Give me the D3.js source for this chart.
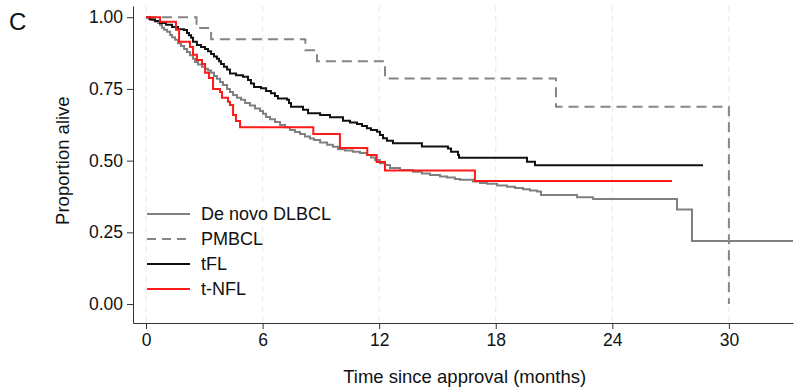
<!DOCTYPE html>
<html>
<head>
<meta charset="utf-8">
<script src="https://cdn.jsdelivr.net/npm/d3@7"></script>
<style>
  body { margin: 0; background: #fff; }
  text { font-family: "Liberation Sans", Arial, sans-serif; fill: #111; }
</style>
</head>
<body>
<div id="km"></div>
<script>
// Kaplan-Meier estimates, [month, proportion alive after that time]
var denovo = [[0,1],[0.15,0.994],[0.31,0.991],[0.46,0.985],[0.62,0.980],[0.72,0.973],[0.82,0.963],[0.93,0.956],
  [1.08,0.949],[1.24,0.938],[1.34,0.930],[1.49,0.921],[1.65,0.909],[1.80,0.900],[1.96,0.889],[2.11,0.879],
  [2.26,0.867],[2.42,0.855],[2.52,0.844],[2.68,0.835],[2.88,0.827],[3.04,0.820],[3.19,0.814],[3.35,0.806],
  [3.50,0.795],[3.65,0.785],[3.81,0.774],[3.96,0.764],[4.17,0.750],[4.32,0.739],[4.48,0.729],[4.68,0.719],
  [4.89,0.712],[5.10,0.701],[5.35,0.692],[5.61,0.682],[5.87,0.673],[6.02,0.663],[6.18,0.652],[6.38,0.644],
  [6.64,0.635],[6.90,0.624],[7.16,0.616],[7.41,0.607],[7.67,0.600],[7.93,0.593],[8.18,0.584],[8.44,0.577],
  [8.65,0.572],[8.96,0.563],[9.32,0.555],[9.62,0.548],[9.88,0.540],[10.24,0.535],[10.65,0.531],[11.01,0.527],
  [11.37,0.520],[11.58,0.511],[11.79,0.502],[12.04,0.491],[12.30,0.485],[12.56,0.474],[13.07,0.467],
  [13.74,0.461],[14.20,0.455],[14.62,0.450],[15.13,0.445],[15.49,0.441],[15.90,0.436],[16.16,0.433],
  [16.83,0.427],[17.19,0.422],[17.55,0.419],[18.07,0.413],[18.58,0.409],[18.99,0.405],[19.40,0.400],
  [19.76,0.396],[20.12,0.392],[20.33,0.380],[22.18,0.372],[23.01,0.366],[27.33,0.330],[28.10,0.220],[33.3,0.220]];

var pmbcl = [[0,1],[2.6,0.962],[3.35,0.923],[8.2,0.885],[8.8,0.846],[12.3,0.786],[21.1,0.688],[30,0]];

var tfl = [[0,1],[0.21,0.992],[0.46,0.987],[0.72,0.980],[1.03,0.974],[1.34,0.966],[1.65,0.958],[1.96,0.955],
  [2.11,0.945],[2.21,0.937],[2.32,0.928],[2.42,0.914],[2.62,0.903],[2.83,0.896],[3.04,0.889],[3.19,0.881],
  [3.35,0.872],[3.50,0.863],[3.65,0.855],[3.76,0.846],[3.86,0.837],[4.01,0.827],[4.17,0.818],[4.32,0.804],
  [4.63,0.798],[4.99,0.792],[5.25,0.781],[5.40,0.769],[5.56,0.757],[5.92,0.752],[6.18,0.743],[6.43,0.735],
  [6.64,0.725],[6.79,0.717],[7.26,0.712],[7.36,0.701],[7.46,0.688],[8.08,0.677],[8.34,0.665],[8.96,0.659],
  [9.47,0.651],[10.14,0.639],[10.50,0.633],[10.86,0.628],[11.12,0.621],[11.37,0.613],[11.58,0.607],
  [11.89,0.601],[12.04,0.589],[12.20,0.578],[12.40,0.569],[12.71,0.561],[14.20,0.549],[15.54,0.542],
  [15.70,0.531],[16.06,0.520],[16.11,0.510],[19.61,0.496],[20.02,0.484],[28.67,0.484]];

var tnfl = [[0,1],[0.72,0.984],[1.54,0.956],[1.70,0.914],[2.26,0.896],[2.42,0.869],[2.62,0.851],[2.88,0.837],
  [3.04,0.806],[3.24,0.788],[3.45,0.750],[3.81,0.739],[3.91,0.719],[4.22,0.705],[4.32,0.694],[4.48,0.659],
  [4.63,0.638],[4.84,0.616],[8.61,0.593],[9.98,0.544],[11.39,0.520],[11.87,0.495],[12.30,0.466],
  [16.93,0.429],[27.07,0.429]];

var groups = ["De novo DLBCL", "PMBCL", "tFL", "t-NFL"];
var xTicks = [0, 6, 12, 18, 24, 30];
var yTicks = [0, 0.25, 0.5, 0.75, 1];

var W = 795, H = 387;
var margin = {top: 6, right: 2, bottom: 64, left: 133};

var svg = d3.select("#km").append("svg")
    .attr("width", W).attr("height", H);

var x = d3.scaleLinear().domain([-0.67, 33.3]).range([margin.left, W - margin.right]);
var y = d3.scaleLinear().domain([-0.066, 1.039]).range([H - margin.bottom, margin.top]);

// faint vertical grid
svg.append("g").selectAll("line")
  .data(xTicks).enter().append("line")
    .attr("x1", d => x(d)).attr("x2", d => x(d))
    .attr("y1", margin.top).attr("y2", H - margin.bottom)
    .style("stroke", "#ececec").style("stroke-width", 1.2)
    .style("stroke-dasharray", "6,4");

var xAxis = svg.append("g")
    .attr("transform", "translate(0," + (H - margin.bottom) + ")")
    .call(d3.axisBottom(x).tickValues(xTicks).tickSize(6).tickPadding(5).tickSizeOuter(0));
var yAxis = svg.append("g")
    .attr("transform", "translate(" + margin.left + ",0)")
    .call(d3.axisLeft(y).tickValues(yTicks).tickFormat(d3.format(".2f")).tickSize(6).tickPadding(4).tickSizeOuter(0));

[xAxis, yAxis].forEach(function(a) {
  a.select(".domain").style("stroke", "#333");
  a.selectAll(".tick line").style("stroke", "#333");
  a.selectAll("text").style("font-size", "17.5px").style("font-family", "Liberation Sans, Arial, sans-serif").style("fill", "#111");
});

var line = d3.line().x(d => x(d[0])).y(d => y(d[1])).curve(d3.curveStepAfter);

var series = [
  {name: groups[0], data: denovo, color: "#808080", dash: null},
  {name: groups[1], data: pmbcl, color: "#858585", dash: "10,6"},
  {name: groups[2], data: tfl, color: "#111", dash: null},
  {name: groups[3], data: tnfl, color: "#ff1a1a", dash: null}
];

svg.append("g").selectAll("path")
  .data(series).enter().append("path")
    .attr("d", d => line(d.data))
    .style("fill", "none")
    .style("stroke", d => d.color)
    .style("stroke-width", 2)
    .style("stroke-dasharray", d => d.dash);

// legend
var leg = svg.append("g").selectAll("g")
  .data(series).enter().append("g")
    .attr("transform", (d, i) => "translate(147," + (214 + i * 25) + ")");
leg.append("line")
    .attr("x1", 0).attr("x2", 43)
    .style("stroke", d => d.color).style("stroke-width", 2)
    .style("stroke-dasharray", d => d.dash ? "9,6" : null);
leg.append("text")
    .attr("x", 54).attr("dy", "0.35em")
    .style("font-size", "18px")
    .text(d => d.name);

svg.append("text")
    .attr("x", x(16.4)).attr("y", 383)
    .attr("text-anchor", "middle")
    .style("font-size", "18.5px")
    .text("Time since approval (months)");

svg.append("text")
    .attr("transform", "translate(69," + y(0.5) + ") rotate(-90)")
    .attr("text-anchor", "middle")
    .style("font-size", "18.5px")
    .text("Proportion alive");

svg.append("text")
    .attr("x", 9).attr("y", 30)
    .style("font-size", "24px")
    .text("C");
</script>
</body>
</html>
